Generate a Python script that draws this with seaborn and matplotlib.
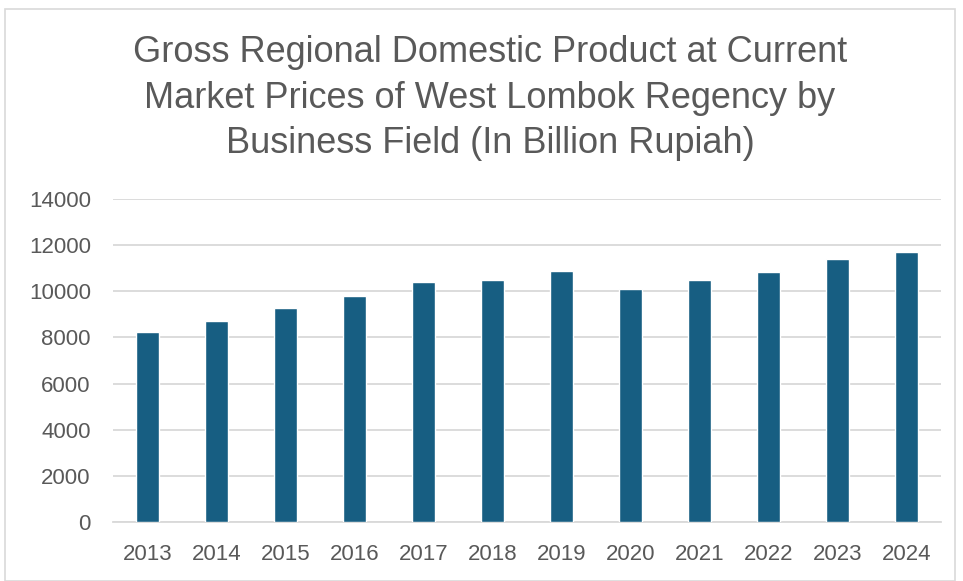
import matplotlib
matplotlib.use("Agg")
import matplotlib.pyplot as plt
import seaborn as sns
import pandas as pd
from matplotlib.patches import Rectangle

years = ["2013", "2014", "2015", "2016", "2017", "2018",
         "2019", "2020", "2021", "2022", "2023", "2024"]
values = [8230, 8710, 9270, 9790, 10420, 10500,
          10900, 10120, 10470, 10830, 11380, 11720]
yticks = [0, 2000, 4000, 6000, 8000, 10000, 12000, 14000]
title = ("Gross Regional Domestic Product at Current\n"
         "Market Prices of West Lombok Regency by\n"
         "Business Field (In Billion Rupiah)")

sns.set_theme(style="white")
plt.rcParams["font.family"] = ["Liberation Sans", "DejaVu Sans"]

df = pd.DataFrame({"year": years, "value": values})

fig = plt.figure(figsize=(9.63, 5.81), dpi=100)
ax = fig.add_axes([113 / 963, 1 - 522 / 581, (941 - 113) / 963, (522 - 199) / 581])

sns.barplot(data=df, x="year", y="value", color="#175E82", saturation=1,
            width=0.32, ax=ax, zorder=3)

ax.set_ylim(0, 14000)
ax.set_xlim(-0.5, len(years) - 0.5)
ax.set_yticks(yticks)
ax.set_yticklabels([str(t) for t in yticks])
ax.yaxis.grid(True, color="#D9D9D9", linewidth=1.3, zorder=0)
ax.xaxis.grid(False)
for s in ["top", "right", "left"]:
    ax.spines[s].set_visible(False)
ax.spines["bottom"].set_color("#D9D9D9")
ax.spines["bottom"].set_linewidth(1.3)
ax.set_xlabel("")
ax.set_ylabel("")
ax.tick_params(axis="both", length=0, colors="#595959", labelsize=16)
ax.tick_params(axis="y", pad=16)
ax.tick_params(axis="x", pad=16)

fig.text(490 / 963, 1 - 98 / 581, title, ha="center", va="center",
         fontsize=26, color="#595959", linespacing=1.4)

fig.patches.append(Rectangle((5 / 963, 0), 950 / 963, 1 - 9 / 581,
                             transform=fig.transFigure, fill=False,
                             edgecolor="#D9D9D9", linewidth=1.2))

fig.savefig("out.png", dpi=100)
